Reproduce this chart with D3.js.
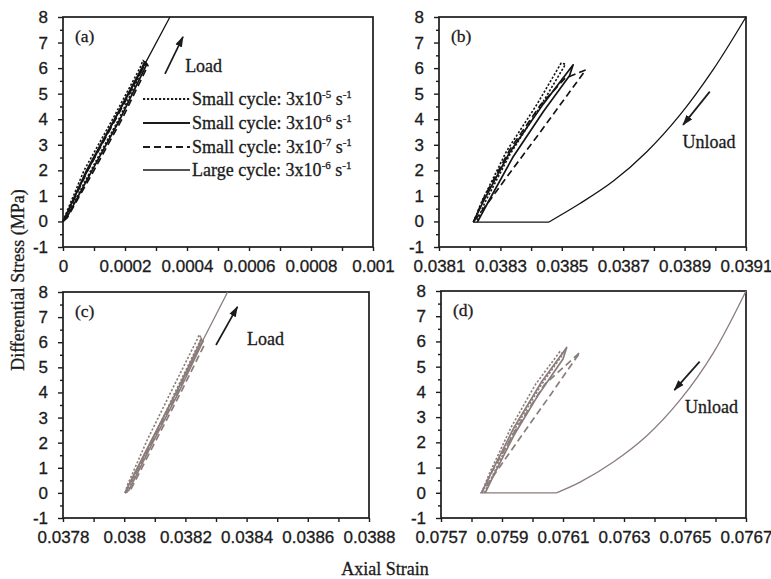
<!DOCTYPE html>
<html>
<head>
<meta charset="utf-8">
<script src="https://cdn.jsdelivr.net/npm/d3@7"></script>
<style>
  html, body { margin: 0; padding: 0; background: #fff; }
  svg { display: block; font-family: "Liberation Serif", "Times New Roman", serif; }
  svg text { stroke: #1b1b1b; stroke-width: 0.3px; }
</style>
</head>
<body>
<svg id="chart" width="771" height="579"></svg>
<script>
// ---------------- data ----------------
const stressTicks = [-1, 0, 1, 2, 3, 4, 5, 6, 7, 8];

const strainTicksA = [0, 0.0002, 0.0004, 0.0006, 0.0008, 0.001];
const strainLabelsA = ["0", "0.0002", "0.0004", "0.0006", "0.0008", "0.001"];
const strainTicksB = [0.0381, 0.0383, 0.0385, 0.0387, 0.0389, 0.0391];
const strainLabelsB = ["0.0381", "0.0383", "0.0385", "0.0387", "0.0389", "0.0391"];
const strainTicksC = [0.0378, 0.0380, 0.0382, 0.0384, 0.0386, 0.0388];
const strainLabelsC = ["0.0378", "0.038", "0.0382", "0.0384", "0.0386", "0.0388"];
const strainTicksD = [0.0757, 0.0759, 0.0761, 0.0763, 0.0765, 0.0767];
const strainLabelsD = ["0.0757", "0.0759", "0.0761", "0.0763", "0.0765", "0.0767"];

const legendLabels = [
  ["Small cycle: 3x10", "-5", " s", "-1"],
  ["Small cycle: 3x10", "-6", " s", "-1"],
  ["Small cycle: 3x10", "-7", " s", "-1"],
  ["Large cycle: 3x10", "-6", " s", "-1"]
];

// (a) loading, first stage  [axial strain, differential stress MPa]
const loadA_fast  = [[0,0],[0.000006,0.2],[0.000068,2.0],[0.00016,4.0],[0.000248,6.0],[0.000258,6.3],[0.000266,6.2],[0.00018,4.0],[0.00009,2.0],[0.00001,0.15],[0,0]];
const loadA_mid   = [[0,0],[0.000008,0.2],[0.000076,2.0],[0.000166,4.0],[0.000254,6.0],[0.000264,6.25],[0.00027,6.15],[0.000184,4.0],[0.000094,2.0],[0.000012,0.15],[0,0]];
const loadA_slow  = [[0,0],[0.00001,0.2],[0.00008,2.0],[0.00017,4.0],[0.000258,6.0],[0.000268,6.2],[0.000274,6.1],[0.00019,4.0],[0.0001,2.0],[0.000014,0.15],[0,0]];
const loadA_large = [[0,0],[0.000008,0.2],[0.00008,2.0],[0.000168,4.0],[0.000257,6.0],[0.000345,8.0]];

// (b) unloading, first stage
const unloadB_fast  = [[0.038212,-0.03],[0.03824,0.8],[0.03832,2.75],[0.03842,4.6],[0.038498,6.2],[0.038512,6.15],[0.03843,4.5],[0.03833,2.6],[0.03825,0.75],[0.038222,-0.03]];
const unloadB_mid   = [[0.038212,-0.03],[0.038245,0.8],[0.03833,2.7],[0.03844,4.6],[0.038537,6.13],[0.038525,5.7],[0.03844,4.3],[0.03834,2.5],[0.038262,0.8],[0.038225,-0.03]];
const unloadB_slow  = [[0.038212,-0.03],[0.038245,0.9],[0.03833,2.8],[0.03843,4.55],[0.03851,5.6],[0.038578,5.93],[0.03852,4.98],[0.03843,3.5],[0.03834,2.05],[0.03827,0.9],[0.038212,-0.03]];
const unloadB_large = [[0.038212,-0.03],[0.038457,-0.03],[0.038559,0.70],[0.038668,1.58],[0.038777,2.73],[0.038885,4.17],[0.038993,5.94],[0.0391,8]];

// (c) loading, second stage
const loadC_fast  = [[0.038003,0],[0.03801,0.3],[0.038075,2.1],[0.03816,4.2],[0.038238,6.1],[0.038245,6.3],[0.038252,6.15],[0.03817,4.1],[0.038088,2.0],[0.038012,0.1],[0.038003,0]];
const loadC_mid   = [[0.038003,0],[0.03801,0.2],[0.038085,2.0],[0.03817,4.0],[0.038245,5.9],[0.038252,6.15],[0.038256,6.0],[0.038178,4.0],[0.038093,2.0],[0.038015,0.1],[0.038003,0]];
const loadC_slow  = [[0.038003,0],[0.038012,0.2],[0.03809,2.0],[0.038175,4.0],[0.03825,5.9],[0.038258,6.05],[0.038262,5.9],[0.038185,4.0],[0.0381,2.0],[0.03802,0.1],[0.038003,0]];
const loadC_large = [[0.038003,0],[0.03801,0.2],[0.038086,2.0],[0.03817,4.0],[0.038254,6.0],[0.038338,8.0]];

// (d) unloading, second stage
const unloadD_fast  = [[0.075833,0],[0.07586,0.8],[0.07593,2.6],[0.07601,4.3],[0.07609,5.6],[0.0761,5.5],[0.07603,4.3],[0.07595,2.7],[0.07587,0.7],[0.075842,0]];
const unloadD_mid   = [[0.075833,0],[0.075865,0.8],[0.07594,2.6],[0.07603,4.4],[0.076112,5.76],[0.0761,5.3],[0.07602,3.9],[0.07594,2.3],[0.075875,0.75],[0.075845,0]];
const unloadD_slow  = [[0.075833,0],[0.07587,0.9],[0.07595,2.6],[0.07604,4.3],[0.076156,5.57],[0.07606,3.9],[0.07597,2.36],[0.07589,0.98],[0.075833,0]];
const unloadD_large = [[0.075828,0],[0.076079,0],[0.076156,0.42],[0.076265,1.22],[0.076374,2.25],[0.076484,3.68],[0.076593,5.55],[0.0767,8]];

// annotation arrows [from, to] and labels, in data units
const arrowA = [[0.000329, 5.77], [0.000387, 7.22]];
const arrowB = [[0.038982, 5.08], [0.038895, 3.78]];
const arrowC = [[0.0383, 5.89], [0.03837, 7.41]];
const arrowD = [[0.076548, 5.2], [0.076465, 4.07]];
const noteA = [0.000394, 5.85, "Load"];
const noteB = [0.038893, 2.87, "Unload"];
const noteC = [0.038401, 5.89, "Load"];
const noteD = [0.0765, 3.16, "Unload"];

// ---------------- styles ----------------
const seriesStyle = {
  fast:  { dash: "2.2,1.8", width: 1.6 },
  mid:   { dash: null,      width: 1.7 },
  slow:  { dash: "7,4",     width: 1.7 },
  large: { dash: null,      width: 1.3 }
};
const ink = "#1b1b1b";

const panels = [
  { tag: "(a)", box: { l: 63,  r: 373, t: 17,  b: 247 }, ticks: strainTicksA, labels: strainLabelsA, color: "#141414",
    series: { fast: loadA_fast, mid: loadA_mid, slow: loadA_slow, large: loadA_large }, arrow: arrowA, note: noteA, curved: false, legend: true },
  { tag: "(b)", box: { l: 439, r: 746, t: 17,  b: 247 }, ticks: strainTicksB, labels: strainLabelsB, color: "#141414",
    series: { fast: unloadB_fast, mid: unloadB_mid, slow: unloadB_slow, large: unloadB_large }, arrow: arrowB, note: noteB, curved: true },
  { tag: "(c)", box: { l: 63,  r: 369, t: 292, b: 518 }, ticks: strainTicksC, labels: strainLabelsC, color: "#8a7d7b",
    series: { fast: loadC_fast, mid: loadC_mid, slow: loadC_slow, large: loadC_large }, arrow: arrowC, note: noteC, curved: false },
  { tag: "(d)", box: { l: 441, r: 746, t: 291, b: 518 }, ticks: strainTicksD, labels: strainLabelsD, color: "#8a7d7b",
    series: { fast: unloadD_fast, mid: unloadD_mid, slow: unloadD_slow, large: unloadD_large }, arrow: arrowD, note: noteD, curved: true }
];

const svg = d3.select("#chart");
const defs = svg.append("defs");
defs.append("marker")
  .attr("id", "head").attr("viewBox", "0 0 12 10").attr("refX", 11).attr("refY", 5)
  .attr("markerWidth", 11).attr("markerHeight", 9).attr("markerUnits", "userSpaceOnUse")
  .attr("orient", "auto")
  .append("path").attr("d", "M0,1 L12,5 L0,9 Z").attr("fill", ink);

panels.forEach(p => {
  const g = svg.append("g");
  const x = d3.scaleLinear().domain([p.ticks[0], p.ticks[p.ticks.length - 1]]).range([p.box.l, p.box.r]);
  const y = d3.scaleLinear().domain([stressTicks[0], stressTicks[stressTicks.length - 1]]).range([p.box.b, p.box.t]);

  // minor ticks halfway between majors
  const minorY = d3.pairs(stressTicks).map(([a, b]) => (a + b) / 2);
  const minorX = d3.pairs(p.ticks).map(([a, b]) => (a + b) / 2);

  const yMinor = g.append("g").attr("transform", `translate(${p.box.l},0)`)
    .call(d3.axisLeft(y).tickValues(minorY).tickSize(3).tickSizeOuter(0).tickFormat(""));
  const yMajor = g.append("g").attr("transform", `translate(${p.box.l},0)`)
    .call(d3.axisLeft(y).tickValues(stressTicks).tickSize(5).tickSizeOuter(0).tickPadding(10).tickFormat(d => String(d)));
  const xMinor = g.append("g").attr("transform", `translate(0,${p.box.b})`)
    .call(d3.axisBottom(x).tickValues(minorX).tickSize(4).tickSizeOuter(0).tickFormat(""));
  const xMajor = g.append("g").attr("transform", `translate(0,${p.box.b})`)
    .call(d3.axisBottom(x).tickValues(p.ticks).tickSize(4).tickSizeOuter(0).tickPadding(9)
      .tickFormat((d, i) => p.labels[i]));

  [yMinor, yMajor, xMinor, xMajor].forEach(ax => {
    ax.select(".domain").remove();
    ax.selectAll(".tick line").attr("stroke", ink).attr("stroke-width", 1.4);
    ax.selectAll("text").attr("fill", ink).attr("font-size", 17).attr("font-family", null);
  });

  // plot frame
  g.append("rect")
    .attr("x", p.box.l).attr("y", p.box.t)
    .attr("width", p.box.r - p.box.l).attr("height", p.box.b - p.box.t)
    .attr("fill", "none").attr("stroke", ink).attr("stroke-width", 1.7);

  // curves: the large unloading branch is a flat run followed by a smooth rise
  const lineStraight = d3.line().x(d => x(d[0])).y(d => y(d[1]));
  const lineSmooth = d3.line().x(d => x(d[0])).y(d => y(d[1])).curve(d3.curveCatmullRom.alpha(0.5));
  ["large", "slow", "mid", "fast"].forEach(k => {
    const st = seriesStyle[k];
    const data = p.series[k];
    const d = (k === "large" && p.curved)
      ? lineStraight(data.slice(0, 2)) + lineSmooth(data.slice(1))
      : lineStraight(data);
    g.append("path")
      .attr("d", d)
      .attr("fill", "none")
      .attr("stroke", p.color)
      .attr("stroke-width", st.width)
      .attr("stroke-linejoin", "round")
      .attr("stroke-dasharray", st.dash);
  });

  // panel tag
  g.append("text").attr("x", p.box.l + 12).attr("y", p.box.t + 25)
    .attr("font-size", 17.5).attr("fill", ink).text(p.tag);

  // arrow + note
  g.append("line")
    .attr("x1", x(p.arrow[0][0])).attr("y1", y(p.arrow[0][1]))
    .attr("x2", x(p.arrow[1][0])).attr("y2", y(p.arrow[1][1]))
    .attr("stroke", ink).attr("stroke-width", 1.7).attr("marker-end", "url(#head)");
  g.append("text").attr("x", x(p.note[0])).attr("y", y(p.note[1]))
    .attr("font-size", 18).attr("fill", ink).text(p.note[2]);

  // legend
  if (p.legend) {
    const keys = ["fast", "mid", "slow", "large"];
    const rows = [99, 123, 147, 170];
    keys.forEach((k, i) => {
      const st = seriesStyle[k];
      g.append("line")
        .attr("x1", 143).attr("x2", 190).attr("y1", rows[i]).attr("y2", rows[i])
        .attr("stroke", ink).attr("stroke-width", k === "large" ? 1.5 : st.width + 0.2)
        .attr("stroke-dasharray", st.dash);
      const t = g.append("text").attr("x", 192).attr("y", rows[i] + 6)
        .attr("font-size", 18).attr("fill", ink);
      const lab = legendLabels[i];
      t.append("tspan").text(lab[0]);
      t.append("tspan").attr("font-size", 11).attr("dy", -7).text(lab[1]);
      t.append("tspan").attr("dy", 7).text(lab[2]);
      t.append("tspan").attr("font-size", 11).attr("dy", -7).text(lab[3]);
    });
  }
});

// axis titles
svg.append("text").attr("x", 385).attr("y", 575).attr("text-anchor", "middle")
  .attr("font-size", 18).attr("fill", ink).text("Axial Strain");
svg.append("text").attr("transform", "translate(24,280) rotate(-90)").attr("text-anchor", "middle")
  .attr("font-size", 18).attr("fill", ink).text("Differential Stress (MPa)");
</script>
</body>
</html>
